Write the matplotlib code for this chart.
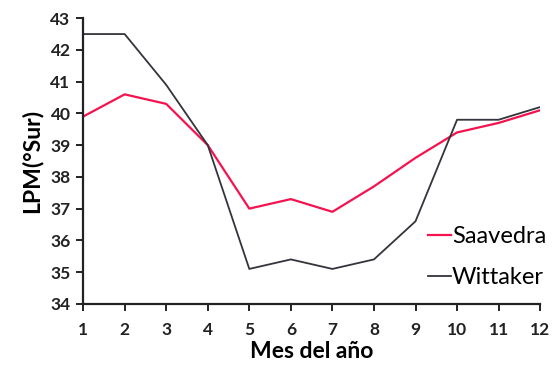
import matplotlib
matplotlib.use('Agg')
import matplotlib.pyplot as plt

months = [1, 2, 3, 4, 5, 6, 7, 8, 9, 10, 11, 12]
saavedra = [39.9, 40.6, 40.3, 39.0, 37.0, 37.3, 36.9, 37.7, 38.6, 39.4, 39.7, 40.1]
wittaker = [42.5, 42.5, 40.9, 39.0, 35.1, 35.4, 35.1, 35.4, 36.6, 39.8, 39.8, 40.2]
yticks = [34, 35, 36, 37, 38, 39, 40, 41, 42, 43]

plt.rcParams['font.family'] = ['Lato', 'DejaVu Sans']

fig = plt.figure(figsize=(5.54, 3.71), dpi=100)
ax = fig.add_axes([0.150, 0.181, 0.825, 0.770])

ax.plot(months, saavedra, color='#f5134f', lw=1.6, label='Saavedra')
ax.plot(months, wittaker, color='#33343c', lw=1.3, label='Wittaker')

ax.set_xlim(1, 12)
ax.set_ylim(34, 43)
ax.set_xticks(months)
ax.set_yticks(yticks)
for s in ['top', 'right']:
    ax.spines[s].set_visible(False)
for s in ['left', 'bottom']:
    ax.spines[s].set_linewidth(1.6)
    ax.spines[s].set_color('#222222')
ax.tick_params(direction='out', length=5, width=1.4, labelsize=12.5, colors='#222222')
ax.tick_params(axis='x', pad=8)
ax.tick_params(axis='y', pad=4)
for lab in ax.get_xticklabels() + ax.get_yticklabels():
    lab.set_fontweight('bold')

ax.set_xlabel('Mes del año', fontsize=16.5, fontweight='bold', labelpad=2)
ax.set_ylabel('LPM(°Sur)', fontsize=16.5, fontweight='bold', labelpad=6)

ax.legend(loc='lower right', bbox_to_anchor=(1.06, -0.02), frameon=False,
          fontsize=17, handlelength=0.95, handletextpad=0.05, labelspacing=0.85)

fig.savefig('out.png', dpi=100)
